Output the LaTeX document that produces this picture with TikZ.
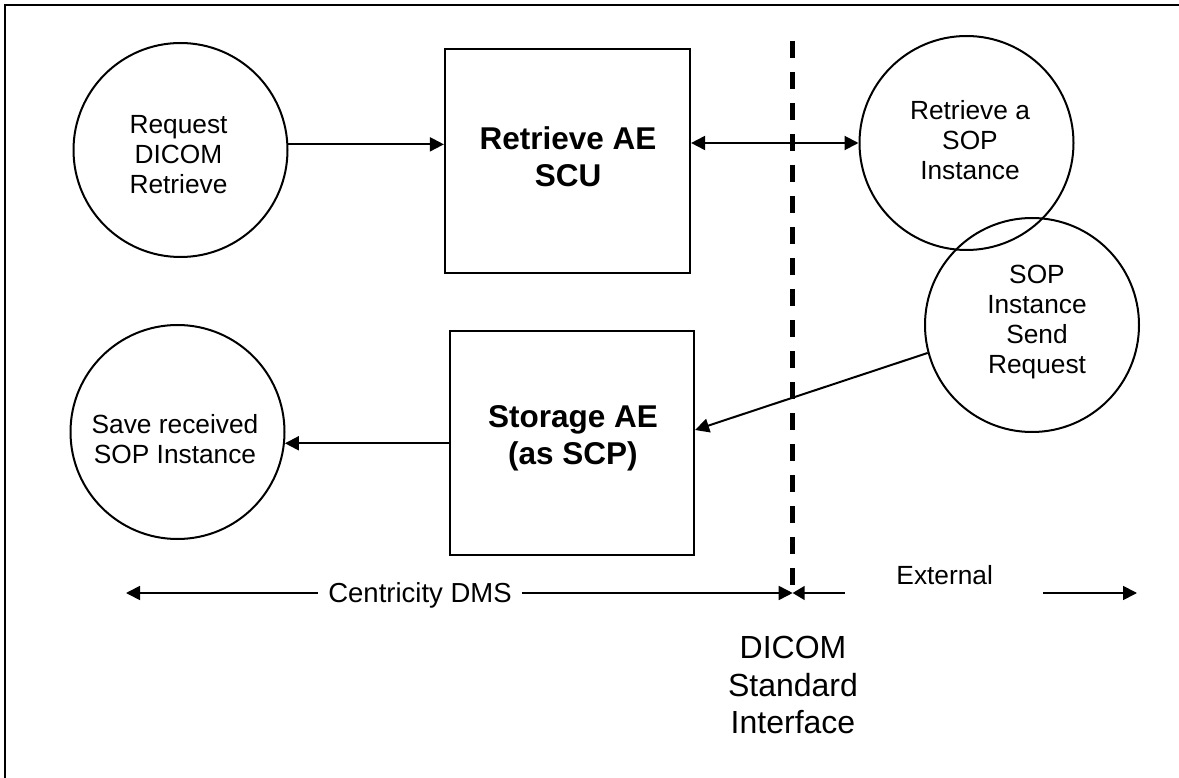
\documentclass[tikz,border=0pt]{standalone}
\usepackage{fontspec}
\setmainfont{Liberation Sans}
\usetikzlibrary{arrows.meta,calc}
\begin{document}
\begin{tikzpicture}[x=1pt,y=-1pt,
  circ/.style={draw,circle,line width=2pt,minimum size=214pt,inner sep=0pt},
  boxnode/.style={draw,rectangle,line width=2.2pt,minimum width=245pt,minimum height=224pt,inner sep=0pt},
  txt/.style={align=center,inner sep=0pt,font=\fontsize{26.3}{30}\selectfont},
  btxt/.style={align=center,inner sep=0pt,font=\bfseries\fontsize{31.5}{37}\selectfont},
  bigtxt/.style={align=center,inner sep=0pt,font=\fontsize{32}{37.5}\selectfont},
  conn/.style={line width=2pt,-{Triangle[length=14pt,width=14pt]}},
  dconn/.style={line width=2pt,{Triangle[length=14pt,width=14pt]}-{Triangle[length=14pt,width=14pt]}},
  spanr/.style={line width=1.7pt,-{Triangle[length=14pt,width=14pt]}},
  spanl/.style={line width=1.7pt,{Triangle[length=12pt,width=14pt]}-},
  divider/.style={line width=4.5pt,dash pattern=on 17pt off 14pt}]
\useasboundingbox (0,0) rectangle (1179,778);
% frame
\draw[line width=1.7pt] (5.3,778) -- (5.3,4.7) -- (1179,4.7);

% circles
\node[circ] (c1) at (180.5,150) {};
\node[txt] (c1t) at (178.5,155) {Request\\DICOM\\Retrieve};
\node[circ] (c2) at (966.5,143) {};
\node[txt] (c2t) at (970,140) {Retrieve a\\SOP\\Instance};
\node[circ] (c3) at (1032,325) {};
\node[txt] (c3t) at (1037,322) {SOP\\Instance\\Send\\Request};
\node[circ] (c4) at (177.5,432) {};
\node[txt] (c4t) at (175,439) {Save received\\SOP Instance};

% boxes
\node[boxnode] (b1) at (567.5,161) {};
\node[btxt] (b1t) at (568,156.5) {Retrieve AE\\SCU};
\node[boxnode,minimum width=244pt] (b2) at (572,443) {};
\node[btxt] (b2t) at (573,438) {Storage AE\\(as SCP)};

% divider
\coordinate (d1) at (792.7,41);
\coordinate (d2) at (792.7,588);
\draw[divider] (d1) -- (d2);

% connectors
\draw[conn] (c1.3) -- (b1.west |- c1.3);
\draw[dconn] (b1.east |- c2.west) -- (c2.west);
\draw[conn] (c3.195) -- ($(b2.east)+(0,-13)$);
\draw[conn] (b2.west |- c4.-6) -- (c4.-6);

% bottom span arrows
\node[inner xsep=10pt,inner ysep=0pt,text height=19pt,text depth=0pt,font=\fontsize{27.5}{30}\selectfont] (cdms) at (420,593) {Centricity DMS};
\coordinate (lt) at (126,593);
\coordinate (dm) at (792.7,593);
\coordinate (x1) at (845,593);
\coordinate (x2) at (1043,593);
\coordinate (rt) at (1137,593);
\draw[spanr] (cdms.west) -- (lt);
\draw[spanr] (cdms.east) -- (dm);
\draw[spanl] (dm) -- (x1);
\draw[spanr] (x2) -- (rt);
\node[txt] (ext) at (944.7,575) {External};

\node[bigtxt] (dsi) at (793,685) {DICOM\\Standard\\Interface};
\end{tikzpicture}
\end{document}
